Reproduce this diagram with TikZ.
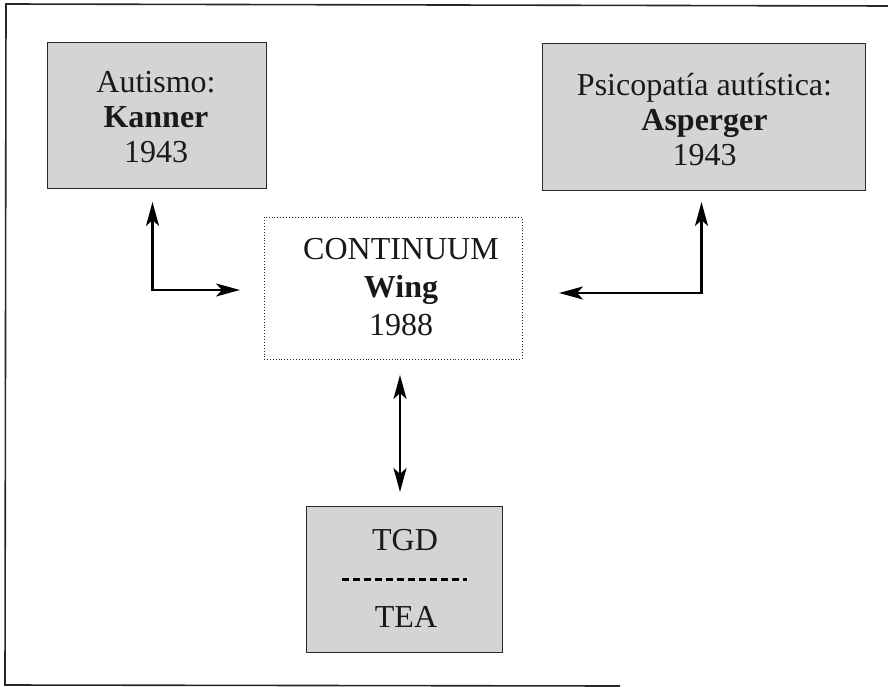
\documentclass[tikz,border=0pt]{standalone}
\usepackage{fontspec}
\setmainfont{Liberation Serif}
\usetikzlibrary{arrows.meta}
\definecolor{boxfill}{RGB}{212,212,212}
\definecolor{boxline}{RGB}{40,40,40}
\begin{document}
\begin{tikzpicture}[x=1pt,y=-1pt,
  graybox/.style={draw=boxline,line width=1pt,fill=boxfill,inner sep=0pt,outer sep=0pt},
  dotbox/.style={draw=boxline,line width=0.9pt,dotted,inner sep=0pt,outer sep=0pt},
  lbl/.style={align=center,inner sep=0pt,font=\fontsize{32}{35}\selectfont,text=black!90},
  conn/.style={line width=2.4pt,arrows={Stealth[length=24pt,width=13pt,inset=6pt]-Stealth[length=24pt,width=13pt,inset=6pt]}},
  frameline/.style={line width=1.6pt,black!85}]
\useasboundingbox (0,0) rectangle (888,687);
% outer frame (open on the right)
\draw[frameline] (888,6) -- (6,4) -- (5,685) -- (620,686);
% boxes
\node[graybox,minimum width=219pt,minimum height=146pt] (kbox) at (156.5,116) {};
\node[graybox,minimum width=323pt,minimum height=147pt] (abox) at (704,117.5) {};
\node[dotbox,minimum width=258pt,minimum height=142pt] (cbox) at (393,288) {};
\node[graybox,minimum width=196pt,minimum height=146pt] (tbox) at (404.7,579) {};
% texts
\node[lbl] (ktext) at (156,117) {Autismo:\\\textbf{Kanner}\\1943};
\node[lbl] (atext) at (704.5,120) {Psicopatía autística:\\\textbf{Asperger}\\1943};
\node[lbl,font=\fontsize{32}{38}\selectfont] (ctext) at (401,287) {CONTINUUM\\\textbf{Wing}\\1988};
\node[lbl] (tgd) at (405,540) {TGD};
\node[lbl] (tea) at (406,617) {TEA};
\draw[line width=3pt,dash pattern=on 7pt off 4pt] (342,579) -- (467,579);
% connector end points
\coordinate (ka) at (152.5,202);
\coordinate (ca) at (240,290);
\coordinate (aa) at (701.5,202);
\coordinate (cb) at (559,293);
\coordinate (cc) at (400,375);
\coordinate (tc) at (400,492);
% connectors
\draw[conn] (ka) |- (ca);
\draw[conn] (aa) |- (cb);
\draw[conn] (cc) -- (tc);
\end{tikzpicture}
\end{document}
